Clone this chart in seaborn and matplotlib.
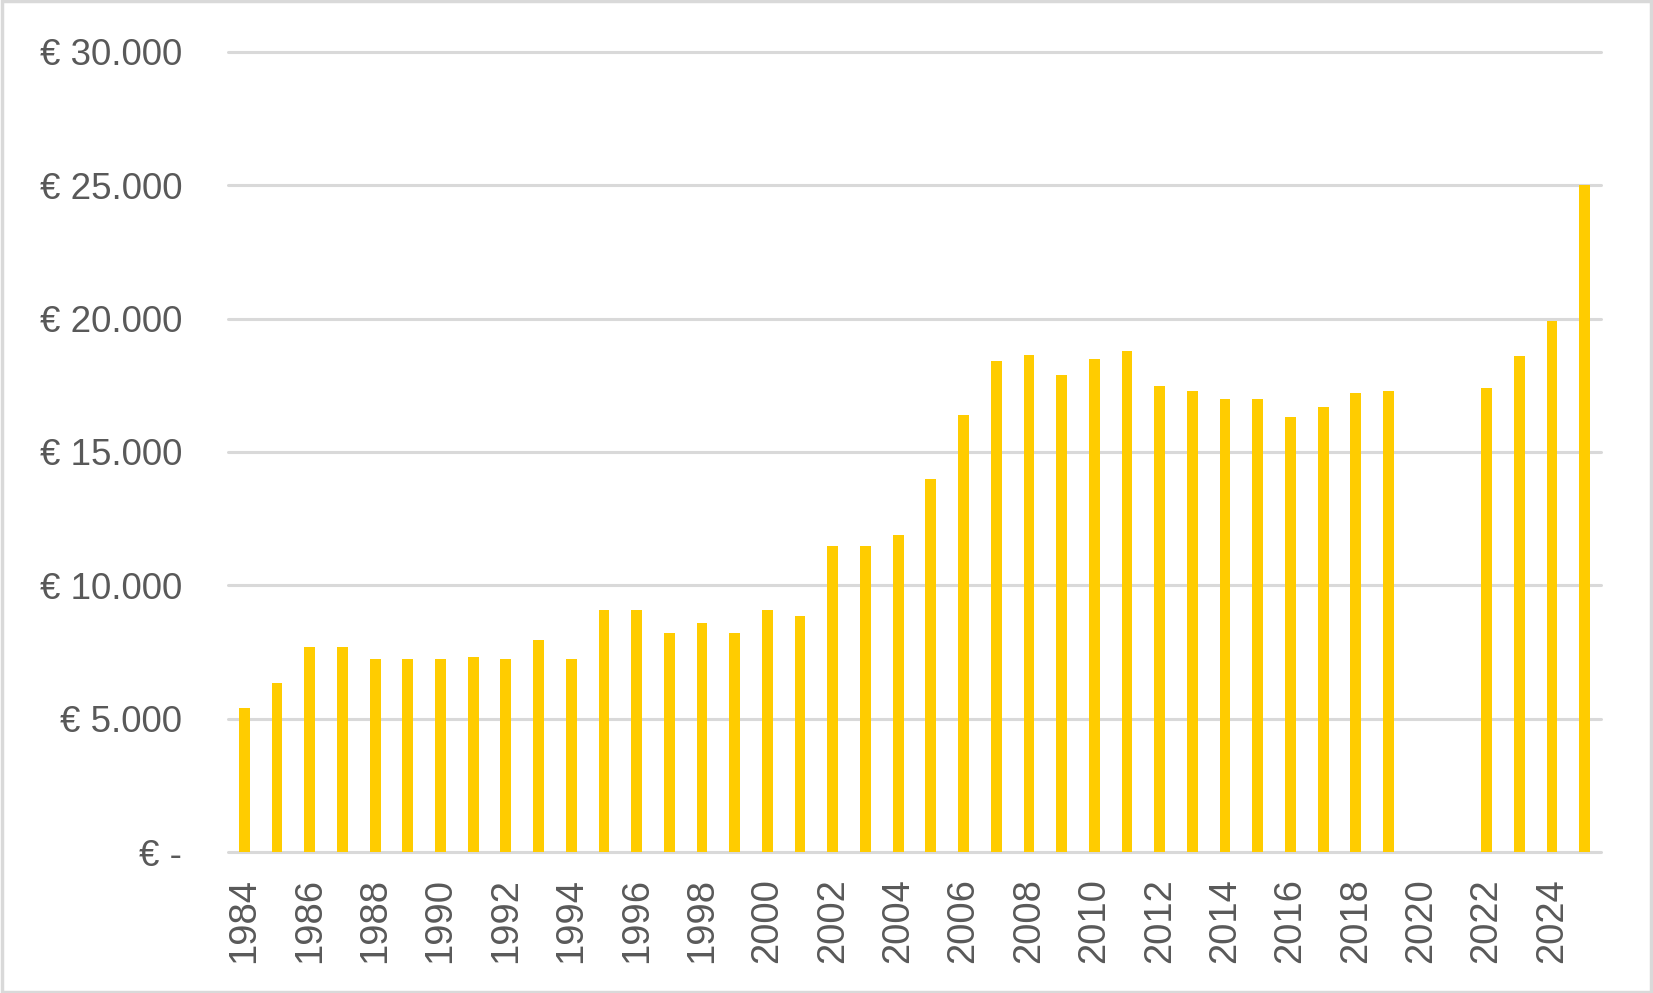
import numpy as np
import pandas as pd
import matplotlib
matplotlib.use("Agg")
import matplotlib.pyplot as plt
from matplotlib.patches import Rectangle
import seaborn as sns

years = [str(y) for y in range(1984, 2026)]
values = [5400, 6350, 7700, 7700, 7220, 7220, 7220, 7300, 7220, 7950,
          7220, 9070, 9070, 8200, 8600, 8200, 9070, 8850, 11480, 11480,
          11900, 14000, 16400, 18400, 18620, 17900, 18480, 18780, 17480, 17280,
          17000, 16980, 16300, 16680, 17200, 17280, np.nan, np.nan, 17400, 18600,
          19900, 25000]
ytick_values = [0, 5000, 10000, 15000, 20000, 25000, 30000]
ytick_labels = ["€ -", "€ 5.000", "€ 10.000", "€ 15.000", "€ 20.000", "€ 25.000", "€ 30.000"]
xtick_labels = [y if int(y) % 2 == 0 else "" for y in years]

df = pd.DataFrame({"year": years, "value": values})

sns.set_theme(style="white")
plt.rcParams["font.family"] = ["Liberation Sans", "DejaVu Sans"]

fig = plt.figure(figsize=(16.53, 9.93), dpi=100)
ax = fig.add_axes([228/1653, 1 - 852/993, (1601 - 228)/1653, (852 - 52)/993])

sns.barplot(data=df, x="year", y="value", order=years, color="#FFCC00",
            saturation=1, width=0.33, ax=ax, errorbar=None, linewidth=0)

ax.set_xlim(-0.5, len(years) - 0.5)
ax.set_ylim(0, 30000)
ax.set_yticks(ytick_values)
ax.set_yticklabels(ytick_labels)
ax.set_xticks(range(len(years)))
ax.set_xticklabels(xtick_labels, rotation=90)
ax.tick_params(axis="y", length=0, pad=33, labelsize=26.5, labelcolor="#595959")
ax.tick_params(axis="x", length=0, pad=19, labelsize=27.5, labelcolor="#595959")
ax.set_xlabel("")
ax.set_ylabel("")
for s in ax.spines.values():
    s.set_visible(False)
ax.yaxis.grid(True, color="#D9D9D9", linewidth=2.2)
ax.xaxis.grid(False)
ax.set_axisbelow(True)
for l in ax.get_ygridlines():
    l.set_clip_on(False)

fig.patches.append(Rectangle((0.001, 0.001), 0.998, 0.998, transform=fig.transFigure,
                             fill=False, edgecolor="#D9D9D9", linewidth=2.5))

fig.savefig("out.png", dpi=100, facecolor="white")
